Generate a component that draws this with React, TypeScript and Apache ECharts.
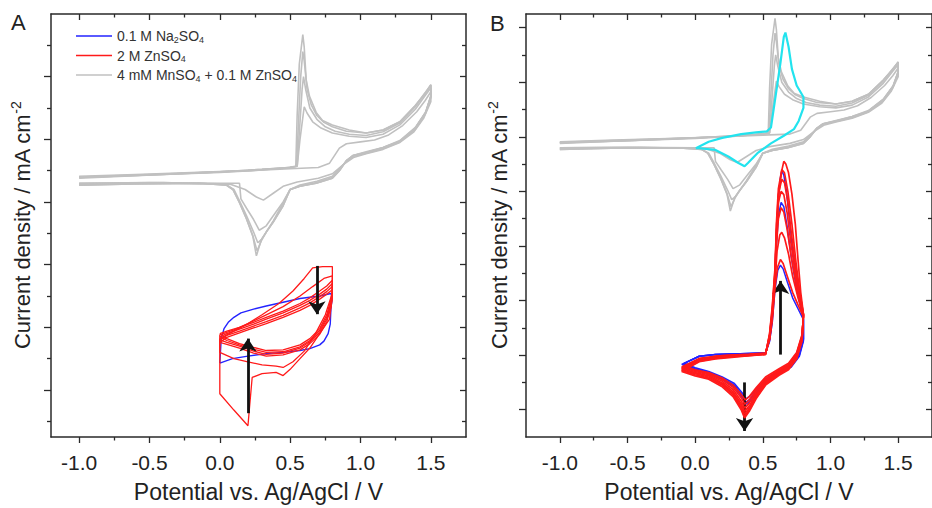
import React, { useEffect, useRef } from 'react';
import * as echarts from 'echarts';

const FONT = '"Liberation Sans", Arial, Helvetica, sans-serif';

const NAME_NA = '0.1 M Na2SO4';
const NAME_ZN = '2 M ZnSO4';
const NAME_MN = '4 mM MnSO4 + 0.1 M ZnSO4';
const NAME_CY = 'selected cycle';

const X_MAJOR = [-1.0, -0.5, 0, 0.5, 1.0, 1.5];
const X_MINOR = [-0.75, -0.25, 0.25, 0.75, 1.25];
const YA_MAJOR = [-3.5, -2.5, -1.5, -0.5, 0.5, 1.5];
const YA_MINOR = [-4, -3, -2, -1, 0, 1, 2];
const YB_MAJOR = [-5, -4, -3, -2, -1, 0, 1, 2];
const YB_MINOR = [-4.5, -3.5, -2.5, -1.5, -0.5, 0.5, 1.5];

// Gray: 4 mM MnSO4 + 0.1 M ZnSO4 (same data in both panels)
const GRAY_1 = [[-1.0,-0.09],[-0.6,-0.06],[-0.2,-0.03],[0.2,0.0],[0.5,0.03],[0.7,0.05],[0.78,0.12],[0.85,0.36],[0.9,0.43],[1.0,0.46],[1.1,0.49],[1.2,0.57],[1.3,0.72],[1.4,0.94],[1.46,1.12],[1.5,1.26],[1.5,1.1],[1.45,0.84],[1.38,0.62],[1.28,0.45],[1.16,0.34],[1.04,0.27],[0.95,0.21],[0.88,0.1],[0.8,-0.05],[0.7,-0.12],[0.55,-0.18],[0.45,-0.25],[0.38,-0.36],[0.31,-0.47],[0.26,-0.42],[0.18,-0.3],[0.08,-0.22],[-0.4,-0.19],[-1.0,-0.2]];
const GRAY_2 = [[-1.0,-0.1],[-0.5,-0.06],[0.0,-0.02],[0.3,0.02],[0.5,0.05],[0.55,0.07],[0.57,0.5],[0.6,1.02],[0.62,0.92],[0.66,0.78],[0.72,0.68],[0.8,0.6],[0.92,0.55],[1.04,0.53],[1.16,0.58],[1.28,0.73],[1.39,0.98],[1.46,1.2],[1.5,1.32],[1.5,1.16],[1.46,0.9],[1.39,0.66],[1.28,0.46],[1.16,0.35],[1.04,0.28],[0.95,0.23],[0.9,0.15],[0.85,0.03],[0.8,-0.09],[0.69,-0.17],[0.57,-0.23],[0.5,-0.3],[0.45,-0.5],[0.38,-0.72],[0.33,-0.88],[0.28,-0.95],[0.24,-0.78],[0.19,-0.6],[0.15,-0.45],[0.14,-0.2],[0.1,-0.2],[0.0,-0.2],[-0.5,-0.19],[-1.0,-0.2]];
const GRAY_3 = [[-1.0,-0.11],[-0.5,-0.07],[0.0,-0.02],[0.3,0.02],[0.5,0.05],[0.55,0.07],[0.565,0.6],[0.585,1.3],[0.595,1.5],[0.61,1.3],[0.64,1.0],[0.69,0.82],[0.75,0.7],[0.82,0.63],[0.92,0.58],[1.04,0.56],[1.16,0.62],[1.28,0.76],[1.39,1.02],[1.46,1.24],[1.5,1.36],[1.5,1.18],[1.46,0.92],[1.39,0.68],[1.28,0.47],[1.16,0.36],[1.04,0.29],[0.95,0.24],[0.9,0.16],[0.85,0.01],[0.8,-0.11],[0.69,-0.19],[0.57,-0.25],[0.5,-0.3],[0.45,-0.52],[0.38,-0.8],[0.33,-0.98],[0.295,-1.1],[0.27,-1.15],[0.24,-0.98],[0.19,-0.72],[0.14,-0.48],[0.1,-0.3],[0.05,-0.23],[0.0,-0.21],[-0.5,-0.2],[-1.0,-0.22]];
const GRAY_4 = [[-1.0,-0.11],[-0.5,-0.07],[0.0,-0.03],[0.3,0.01],[0.5,0.05],[0.545,0.07],[0.56,0.8],[0.575,1.5],[0.59,1.9],[0.6,1.75],[0.62,1.3],[0.65,1.05],[0.69,0.88],[0.74,0.77],[0.8,0.7],[0.9,0.63],[1.04,0.6],[1.16,0.65],[1.28,0.78],[1.39,1.04],[1.465,1.26],[1.5,1.37],[1.5,1.2],[1.465,0.94],[1.39,0.69],[1.28,0.48],[1.16,0.37],[1.04,0.3],[0.945,0.24],[0.9,0.16],[0.85,0.0],[0.8,-0.12],[0.685,-0.2],[0.567,-0.25],[0.5,-0.3],[0.45,-0.56],[0.38,-0.82],[0.33,-0.98],[0.295,-1.12],[0.265,-1.28],[0.235,-1.04],[0.19,-0.77],[0.14,-0.51],[0.093,-0.3],[0.046,-0.23],[-0.14,-0.2],[-0.62,-0.21],[-1.0,-0.23]];
const GRAY_5 = [[-1.0,-0.12],[-0.6,-0.08],[-0.2,-0.04],[0.2,0.0],[0.45,0.04],[0.54,0.07],[0.55,0.9],[0.565,1.7],[0.59,2.17],[0.6,1.97],[0.614,1.45],[0.637,1.19],[0.685,0.93],[0.73,0.8],[0.8,0.73],[0.92,0.65],[1.04,0.6],[1.16,0.65],[1.28,0.78],[1.39,1.04],[1.465,1.24],[1.5,1.37],[1.5,1.19],[1.465,0.93],[1.39,0.68],[1.28,0.47],[1.16,0.37],[1.04,0.29],[0.945,0.24],[0.9,0.16],[0.85,0.0],[0.8,-0.12],[0.685,-0.2],[0.567,-0.25],[0.5,-0.3],[0.45,-0.56],[0.38,-0.82],[0.33,-0.98],[0.295,-1.1],[0.26,-1.36],[0.235,-1.05],[0.19,-0.77],[0.14,-0.51],[0.093,-0.3],[0.046,-0.23],[-0.14,-0.2],[-0.62,-0.21],[-1.0,-0.23]];
const GRAY_CYCLES = [GRAY_1, GRAY_2, GRAY_3, GRAY_4, GRAY_5];

// Panel A: 0.1 M Na2SO4 (blue) and 2 M ZnSO4 (red)
const BLUE_A1 = [[0.0,-3.07],[0.01,-2.68],[0.03,-2.52],[0.06,-2.42],[0.1,-2.34],[0.15,-2.27],[0.24,-2.21],[0.33,-2.16],[0.45,-2.1],[0.57,-2.04],[0.71,-2.0],[0.79,-1.96],[0.8,-2.02],[0.79,-2.2],[0.785,-2.45],[0.77,-2.6],[0.74,-2.72],[0.71,-2.78],[0.64,-2.84],[0.57,-2.87],[0.45,-2.9],[0.33,-2.92],[0.2,-2.96],[0.09,-3.0],[0.0,-3.07]];
const BLUE_A_CYCLES = [BLUE_A1];

const RED_A1 = [[0.0,-2.68],[0.0,-3.2],[0.0,-3.56],[0.1,-3.82],[0.2,-4.07],[0.21,-3.81],[0.23,-3.3],[0.3,-3.24],[0.4,-3.22],[0.45,-3.27],[0.5,-3.17],[0.57,-3.0],[0.64,-2.83],[0.71,-2.6],[0.78,-2.37],[0.8,-2.0],[0.8,-1.53],[0.73,-1.53],[0.66,-1.55],[0.6,-1.72],[0.52,-1.92],[0.42,-2.12],[0.3,-2.3],[0.2,-2.44],[0.1,-2.56],[0.0,-2.68]];
const RED_A2 = [[0.0,-2.62],[0.0,-2.9],[0.1,-3.0],[0.2,-3.05],[0.3,-3.1],[0.4,-3.12],[0.45,-3.14],[0.52,-3.05],[0.6,-2.88],[0.68,-2.6],[0.75,-2.3],[0.8,-1.95],[0.8,-1.68],[0.74,-1.72],[0.66,-1.85],[0.57,-2.0],[0.45,-2.17],[0.33,-2.3],[0.2,-2.44],[0.1,-2.54],[0.0,-2.62]];
const RED_A3 = [[0.0,-2.6],[0.05,-2.56],[0.14,-2.5],[0.24,-2.42],[0.33,-2.34],[0.45,-2.24],[0.57,-2.12],[0.64,-2.03],[0.71,-1.92],[0.76,-1.84],[0.8,-1.75],[0.8,-1.9],[0.79,-2.05],[0.76,-2.3],[0.71,-2.52],[0.64,-2.68],[0.57,-2.78],[0.45,-2.86],[0.33,-2.87],[0.24,-2.82],[0.14,-2.76],[0.05,-2.68],[0.0,-2.6]];
const RED_A4 = [[0.0,-2.65],[0.05,-2.6],[0.14,-2.53],[0.24,-2.45],[0.33,-2.37],[0.45,-2.27],[0.57,-2.15],[0.64,-2.07],[0.71,-1.97],[0.76,-1.89],[0.8,-1.8],[0.8,-1.95],[0.79,-2.1],[0.76,-2.34],[0.71,-2.55],[0.64,-2.71],[0.57,-2.81],[0.45,-2.89],[0.33,-2.9],[0.24,-2.85],[0.14,-2.78],[0.05,-2.71],[0.0,-2.65]];
const RED_A5 = [[0.0,-2.7],[0.05,-2.63],[0.14,-2.56],[0.24,-2.48],[0.33,-2.41],[0.45,-2.31],[0.57,-2.19],[0.64,-2.11],[0.71,-2.01],[0.76,-1.93],[0.8,-1.85],[0.8,-1.99],[0.79,-2.14],[0.76,-2.37],[0.71,-2.58],[0.64,-2.73],[0.57,-2.83],[0.45,-2.91],[0.33,-2.93],[0.24,-2.88],[0.14,-2.8],[0.05,-2.74],[0.0,-2.7]];
const RED_A6 = [[0.0,-2.74],[0.05,-2.66],[0.14,-2.59],[0.24,-2.51],[0.33,-2.44],[0.45,-2.34],[0.57,-2.23],[0.64,-2.15],[0.71,-2.05],[0.76,-1.97],[0.8,-1.9],[0.8,-2.03],[0.79,-2.18],[0.76,-2.41],[0.71,-2.61],[0.64,-2.76],[0.57,-2.86],[0.45,-2.94],[0.33,-2.96],[0.24,-2.91],[0.14,-2.83],[0.05,-2.77],[0.0,-2.74]];
const RED_A_CYCLES = [RED_A1, RED_A2, RED_A3, RED_A4, RED_A5, RED_A6];

// Panel B: highlighted cycle (cyan), 0.1 M Na2SO4 (blue), 2 M ZnSO4 (red)
const CYAN_B = [[0.005,-0.21],[0.1,-0.09],[0.2,-0.02],[0.34,0.05],[0.45,0.08],[0.53,0.1],[0.56,0.17],[0.595,0.76],[0.63,1.35],[0.655,1.83],[0.667,1.91],[0.69,1.65],[0.715,1.24],[0.75,0.94],[0.8,0.73],[0.8,0.53],[0.765,0.29],[0.73,0.14],[0.655,0.02],[0.56,-0.12],[0.46,-0.3],[0.39,-0.48],[0.365,-0.54],[0.32,-0.48],[0.245,-0.36],[0.15,-0.24],[0.03,-0.21],[0.005,-0.21]];

const BLUE_B1 = [[-0.08,-4.15],[0.03,-4.02],[0.15,-3.99],[0.27,-3.98],[0.4,-3.97],[0.52,-3.96],[0.55,-3.75],[0.57,-3.4],[0.59,-2.8],[0.61,-2.45],[0.63,-2.35],[0.65,-2.42],[0.68,-2.65],[0.72,-2.95],[0.76,-3.15],[0.8,-3.35],[0.8,-3.7],[0.77,-3.98],[0.71,-4.18],[0.63,-4.28],[0.53,-4.42],[0.46,-4.6],[0.41,-4.74],[0.375,-4.8],[0.35,-4.7],[0.29,-4.52],[0.2,-4.4],[0.1,-4.3],[0.0,-4.23],[-0.08,-4.15]];
const BLUE_B2 = [[-0.09,-4.16],[0.03,-4.02],[0.15,-3.99],[0.27,-3.98],[0.4,-3.97],[0.52,-3.96],[0.55,-3.72],[0.57,-3.3],[0.59,-2.6],[0.6,-2.0],[0.615,-1.45],[0.635,-1.2],[0.655,-1.28],[0.68,-1.65],[0.71,-2.2],[0.75,-2.8],[0.8,-3.35],[0.8,-3.72],[0.77,-4.0],[0.71,-4.2],[0.63,-4.3],[0.53,-4.45],[0.46,-4.64],[0.41,-4.8],[0.375,-4.86],[0.35,-4.74],[0.29,-4.55],[0.2,-4.42],[0.1,-4.32],[0.0,-4.25],[-0.09,-4.16]];
const BLUE_B3 = [[-0.1,-4.17],[0.03,-4.02],[0.15,-3.99],[0.27,-3.98],[0.4,-3.97],[0.52,-3.96],[0.55,-3.7],[0.57,-3.25],[0.59,-2.5],[0.6,-1.8],[0.615,-1.1],[0.63,-0.75],[0.64,-0.63],[0.655,-0.7],[0.675,-1.0],[0.7,-1.6],[0.73,-2.3],[0.765,-2.9],[0.8,-3.35],[0.8,-3.74],[0.77,-4.02],[0.71,-4.22],[0.63,-4.32],[0.53,-4.47],[0.46,-4.67],[0.41,-4.84],[0.375,-4.9],[0.35,-4.78],[0.29,-4.58],[0.2,-4.44],[0.1,-4.34],[0.0,-4.27],[-0.1,-4.17]];
const BLUE_B_CYCLES = [BLUE_B1, BLUE_B2, BLUE_B3];

const RED_B1 = [[-0.08,-4.2],[0.03,-4.06],[0.15,-4.02],[0.27,-4.0],[0.4,-3.98],[0.52,-3.96],[0.55,-3.72],[0.57,-3.35],[0.59,-2.75],[0.61,-2.38],[0.63,-2.25],[0.65,-2.32],[0.68,-2.55],[0.72,-2.85],[0.76,-3.08],[0.8,-3.3],[0.79,-3.62],[0.75,-3.95],[0.69,-4.15],[0.62,-4.25],[0.52,-4.4],[0.45,-4.6],[0.4,-4.76],[0.37,-4.82],[0.34,-4.72],[0.28,-4.55],[0.2,-4.42],[0.1,-4.32],[0.0,-4.27],[-0.08,-4.2]];
const RED_B2 = [[-0.09,-4.21],[0.03,-4.07],[0.15,-4.02],[0.27,-4.0],[0.4,-3.99],[0.52,-3.97],[0.55,-3.7],[0.57,-3.3],[0.59,-2.65],[0.605,-2.1],[0.625,-1.8],[0.64,-1.75],[0.66,-1.85],[0.69,-2.15],[0.72,-2.55],[0.76,-2.95],[0.8,-3.28],[0.79,-3.64],[0.75,-3.97],[0.69,-4.17],[0.62,-4.27],[0.52,-4.43],[0.45,-4.64],[0.4,-4.82],[0.367,-4.9],[0.34,-4.78],[0.28,-4.59],[0.2,-4.45],[0.1,-4.34],[0.0,-4.28],[-0.09,-4.21]];
const RED_B3 = [[-0.1,-4.22],[0.03,-4.08],[0.15,-4.03],[0.27,-4.01],[0.4,-3.99],[0.52,-3.97],[0.55,-3.68],[0.57,-3.25],[0.59,-2.6],[0.6,-2.0],[0.615,-1.5],[0.635,-1.3],[0.655,-1.38],[0.68,-1.7],[0.71,-2.2],[0.75,-2.75],[0.8,-3.27],[0.79,-3.66],[0.75,-3.99],[0.69,-4.19],[0.62,-4.29],[0.52,-4.46],[0.45,-4.68],[0.4,-4.88],[0.366,-4.97],[0.34,-4.84],[0.28,-4.63],[0.2,-4.48],[0.1,-4.36],[0.0,-4.3],[-0.1,-4.22]];
const RED_B4 = [[-0.1,-4.24],[0.03,-4.09],[0.15,-4.04],[0.27,-4.02],[0.4,-4.0],[0.52,-3.98],[0.55,-3.66],[0.57,-3.22],[0.59,-2.55],[0.6,-1.8],[0.615,-1.2],[0.635,-1.0],[0.655,-1.06],[0.68,-1.4],[0.705,-1.9],[0.74,-2.5],[0.775,-2.95],[0.8,-3.26],[0.79,-3.68],[0.75,-4.01],[0.69,-4.21],[0.62,-4.31],[0.52,-4.49],[0.45,-4.72],[0.4,-4.93],[0.365,-5.03],[0.34,-4.89],[0.28,-4.67],[0.2,-4.51],[0.1,-4.38],[0.0,-4.32],[-0.1,-4.24]];
const RED_B5 = [[-0.1,-4.26],[0.03,-4.1],[0.15,-4.05],[0.27,-4.02],[0.4,-4.0],[0.52,-3.98],[0.55,-3.64],[0.57,-3.2],[0.59,-2.5],[0.6,-1.7],[0.615,-1.05],[0.64,-0.78],[0.66,-0.84],[0.685,-1.2],[0.71,-1.75],[0.74,-2.35],[0.775,-2.9],[0.8,-3.26],[0.79,-3.7],[0.75,-4.03],[0.69,-4.23],[0.62,-4.33],[0.52,-4.51],[0.45,-4.75],[0.4,-4.97],[0.365,-5.08],[0.34,-4.93],[0.28,-4.7],[0.2,-4.53],[0.1,-4.4],[0.0,-4.34],[-0.1,-4.26]];
const RED_B6 = [[-0.1,-4.28],[0.03,-4.11],[0.15,-4.06],[0.27,-4.03],[0.4,-4.01],[0.52,-3.98],[0.55,-3.62],[0.57,-3.15],[0.59,-2.45],[0.6,-1.6],[0.615,-0.95],[0.64,-0.6],[0.66,-0.66],[0.685,-1.0],[0.715,-1.6],[0.745,-2.3],[0.775,-2.88],[0.8,-3.25],[0.79,-3.72],[0.75,-4.05],[0.69,-4.25],[0.62,-4.35],[0.52,-4.53],[0.45,-4.78],[0.4,-5.0],[0.364,-5.12],[0.34,-4.97],[0.28,-4.73],[0.2,-4.55],[0.1,-4.42],[0.0,-4.36],[-0.1,-4.28]];
const RED_B7 = [[-0.1,-4.3],[0.03,-4.12],[0.15,-4.07],[0.27,-4.04],[0.4,-4.01],[0.52,-3.99],[0.55,-3.6],[0.57,-3.1],[0.59,-2.4],[0.605,-1.6],[0.62,-1.0],[0.64,-0.62],[0.655,-0.45],[0.67,-0.5],[0.69,-0.66],[0.715,-1.05],[0.74,-1.6],[0.76,-2.25],[0.78,-2.85],[0.8,-3.25],[0.79,-3.74],[0.75,-4.07],[0.69,-4.27],[0.62,-4.37],[0.52,-4.55],[0.45,-4.8],[0.4,-5.03],[0.365,-5.15],[0.34,-5.0],[0.28,-4.76],[0.2,-4.58],[0.1,-4.44],[0.0,-4.38],[-0.1,-4.3]];
const RED_B_CYCLES = [RED_B1, RED_B2, RED_B3, RED_B4, RED_B5, RED_B6, RED_B7];

// Arrows: [potential, from, to]
const ARROWS_A = [[0.69, -1.52, -2.29], [0.2, -3.87, -2.68]];
const ARROWS_B = [[0.631, -3.99, -2.64], [0.365, -4.5, -5.39]];

const RICH_NAMES: Record<string, string> = {
  [NAME_NA]: '{n|0.1 M Na}{s|2}{n|SO}{s|4}',
  [NAME_ZN]: '{n|2 M ZnSO}{s|4}',
  [NAME_MN]: '{n|4 mM MnSO}{s|4}{n| + 0.1 M ZnSO}{s|4}',
};

const AXIS_COLOR = '#2a2a2a';
const GRAY = '#c0c0c0';
const RED = '#ff1a1a';
const BLUE = '#2323ff';
const CYAN = '#22e3ee';

function xAx(gridIndex: number, min: number, max: number, position: string, values: number[], length: number, showLine: boolean, labels: boolean, name?: string) {
  const ax: any = {
    type: 'value', gridIndex, min, max, position,
    axisLine: { show: showLine, onZero: false, lineStyle: { color: AXIS_COLOR, width: 1.5 } },
    axisTick: { show: true, inside: position === 'top', length, customValues: values, lineStyle: { color: AXIS_COLOR, width: 1.3 } },
    axisLabel: labels
      ? { show: true, customValues: values, formatter: (v: number) => v.toFixed(1), fontSize: 21, color: '#222', fontFamily: FONT, margin: 15 }
      : { show: false },
    splitLine: { show: false },
  };
  if (name) {
    ax.name = name;
    ax.nameLocation = 'middle';
    ax.nameGap = 43;
    ax.nameTextStyle = { fontSize: 23, color: '#222', fontFamily: FONT };
  }
  return ax;
}

function yAx(gridIndex: number, min: number, max: number, position: string, values: number[], length: number, showLine: boolean, nameGap?: number) {
  const ax: any = {
    type: 'value', gridIndex, min, max, position,
    axisLine: { show: showLine, onZero: false, lineStyle: { color: AXIS_COLOR, width: 1.5 } },
    axisTick: { show: true, inside: position === 'right', length, customValues: values, lineStyle: { color: AXIS_COLOR, width: 1.3 } },
    axisLabel: { show: false },
    splitLine: { show: false },
  };
  if (nameGap !== undefined) {
    ax.name = '{a|Current density / mA cm}{b|-2}';
    ax.nameLocation = 'middle';
    ax.nameGap = nameGap;
    ax.nameTextStyle = {
      fontSize: 22, color: '#222', fontFamily: FONT,
      rich: {
        a: { fontSize: 22, lineHeight: 26, fontFamily: FONT, color: '#222' },
        b: { fontSize: 14, lineHeight: 14, verticalAlign: 'top', fontFamily: FONT, color: '#222' },
      },
    };
  }
  return ax;
}

function lineSeries(name: string, data: number[][], color: string, width: number, axisIndex: number, z: number) {
  return {
    type: 'line', name, data, xAxisIndex: axisIndex, yAxisIndex: axisIndex,
    showSymbol: false, symbol: 'none', silent: true, z,
    lineStyle: { color, width }, itemStyle: { color },
    emphasis: { disabled: true },
  };
}

function arrowSeries(arrows: number[][], axisIndex: number) {
  return {
    type: 'line', name: 'arrows' + axisIndex, data: [], xAxisIndex: axisIndex, yAxisIndex: axisIndex, z: 20, silent: true,
    markLine: {
      silent: true, animation: false,
      symbol: ['none', 'arrow'], symbolSize: 13,
      label: { show: false },
      lineStyle: { color: '#111', width: 2.8, type: 'solid' },
      emphasis: { disabled: true },
      data: arrows.map((a) => [{ coord: [a[0], a[1]] }, { coord: [a[0], a[2]] }]),
    },
  };
}

export default function App() {
  const ref = useRef<HTMLDivElement>(null);

  useEffect(() => {
    document.body.style.margin = '0';
    if (!ref.current) return;
    const chart = echarts.init(ref.current, undefined, { renderer: 'svg' });

    const series: any[] = [];
    GRAY_CYCLES.forEach((d) => series.push(lineSeries(NAME_MN, d, GRAY, 1.6, 0, 2)));
    BLUE_A_CYCLES.forEach((d) => series.push(lineSeries(NAME_NA, d, BLUE, 1.4, 0, 3)));
    RED_A_CYCLES.forEach((d) => series.push(lineSeries(NAME_ZN, d, RED, 1.3, 0, 4)));
    series.push(arrowSeries(ARROWS_A, 0));

    GRAY_CYCLES.forEach((d) => series.push(lineSeries(NAME_MN, d, GRAY, 1.6, 4, 2)));
    series.push(lineSeries(NAME_CY, CYAN_B, CYAN, 2.2, 4, 3));
    BLUE_B_CYCLES.forEach((d) => series.push(lineSeries(NAME_NA, d, BLUE, 1.5, 4, 4)));
    RED_B_CYCLES.forEach((d) => series.push(lineSeries(NAME_ZN, d, RED, 1.7, 4, 5)));
    series.push(arrowSeries(ARROWS_B, 4));

    const xName = 'Potential vs. Ag/AgCl / V';

    chart.setOption({
      animation: false,
      backgroundColor: '#ffffff',
      textStyle: { fontFamily: FONT },
      grid: [
        { left: 51, top: 14, width: 415, height: 438, containLabel: false },
        { left: 526, top: 14, width: 416, height: 438, containLabel: false },
      ],
      xAxis: [
        xAx(0, -1.2, 1.75, 'bottom', X_MAJOR, 6, true, true, xName),
        xAx(0, -1.2, 1.75, 'bottom', X_MINOR, 3.5, false, false),
        xAx(0, -1.2, 1.75, 'top', X_MAJOR, 6, true, false),
        xAx(0, -1.2, 1.75, 'top', X_MINOR, 3.5, false, false),
        xAx(1, -1.25, 1.75, 'bottom', X_MAJOR, 6, true, true, xName),
        xAx(1, -1.25, 1.75, 'bottom', X_MINOR, 3.5, false, false),
        xAx(1, -1.25, 1.75, 'top', X_MAJOR, 6, true, false),
        xAx(1, -1.25, 1.75, 'top', X_MINOR, 3.5, false, false),
      ],
      yAxis: [
        yAx(0, -4.25, 2.5, 'left', YA_MAJOR, 7, true, 16),
        yAx(0, -4.25, 2.5, 'left', YA_MINOR, 4, false),
        yAx(0, -4.25, 2.5, 'right', YA_MAJOR, 6, true),
        yAx(0, -4.25, 2.5, 'right', YA_MINOR, 4, false),
        yAx(1, -5.5, 2.25, 'left', YB_MAJOR, 7, true, 14),
        yAx(1, -5.5, 2.25, 'left', YB_MINOR, 4, false),
        yAx(1, -5.5, 2.25, 'right', YB_MAJOR, 6, true),
        yAx(1, -5.5, 2.25, 'right', YB_MINOR, 4, false),
      ],
      legend: {
        data: [NAME_NA, NAME_ZN, NAME_MN],
        orient: 'vertical',
        left: 71, top: 24,
        icon: 'rect',
        itemWidth: 36, itemHeight: 1.6, itemGap: 4.5,
        selectedMode: false,
        formatter: (name: string) => RICH_NAMES[name] || name,
        textStyle: {
          color: '#333', fontSize: 14, fontFamily: FONT,
          rich: {
            n: { fontSize: 14, lineHeight: 16, fontFamily: FONT, color: '#333' },
            s: { fontSize: 9, lineHeight: 9, verticalAlign: 'bottom', fontFamily: FONT, color: '#333' },
          },
        },
      },
      graphic: [
        { type: 'text', left: 11, top: 11, style: { text: 'A', fontSize: 22, fill: '#222', fontFamily: FONT } },
        { type: 'text', left: 490, top: 12, style: { text: 'B', fontSize: 22, fill: '#222', fontFamily: FONT } },
      ],
      series,
    });

    return () => chart.dispose();
  }, []);

  return <div ref={ref} style={{ position: 'absolute', left: 0, top: 0, width: 932, height: 508 }} />;
}
